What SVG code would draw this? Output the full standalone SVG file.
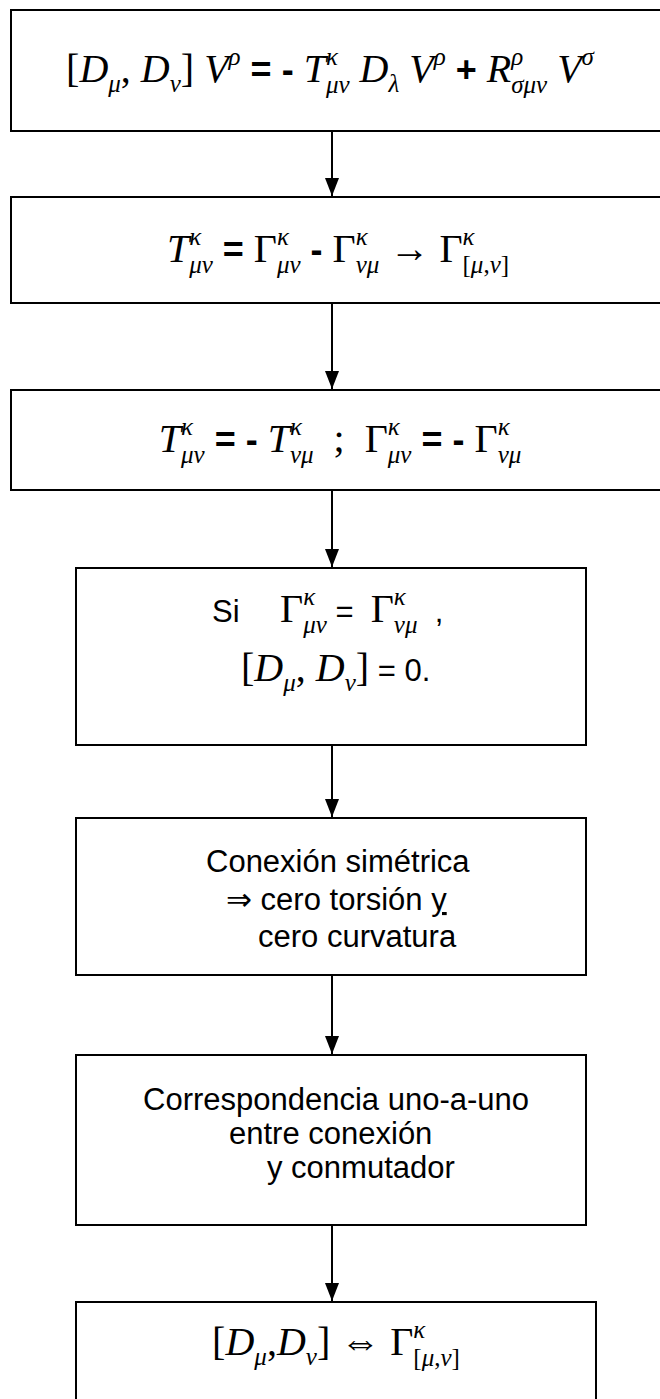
<svg xmlns="http://www.w3.org/2000/svg" width="660" height="1399" viewBox="0 0 660 1399">
<style>
.box{fill:#fff;stroke:#000;stroke-width:2}
.m{font-family:"Liberation Serif",serif;font-style:italic;font-size:40px;fill:#000}
.r{font-style:normal}
.s{font-size:25px}
.op{font-family:"Liberation Sans",Arial,sans-serif;font-weight:bold;font-style:normal;font-size:36px}
.t{font-family:"Liberation Sans",Arial,sans-serif;font-style:normal;font-size:31px;fill:#000}
.conn{stroke:#000;stroke-width:2;fill:none;marker-end:url(#ah)}
</style>
<defs>
<marker id="ah" markerWidth="18" markerHeight="14" refX="18" refY="7" orient="auto" markerUnits="userSpaceOnUse" viewBox="0 0 18 14">
<path d="M0,0 L18,7 L0,14 Z" fill="#000"/>
</marker>
</defs>
<rect width="660" height="1399" fill="#fff"/>
<g id="connectors">
<line class="conn" x1="332" y1="131" x2="332" y2="196"/>
<line class="conn" x1="332" y1="303" x2="332" y2="389"/>
<line class="conn" x1="332" y1="490" x2="332" y2="567"/>
<line class="conn" x1="332" y1="745" x2="332" y2="817"/>
<line class="conn" x1="332" y1="975" x2="332" y2="1054"/>
<line class="conn" x1="332" y1="1225" x2="332" y2="1301"/>
</g>
<g id="n1">
<rect class="box" x="11" y="10" width="660" height="121"/>
<text class="m" x="330" y="82" text-anchor="middle"><tspan class="r">[</tspan>D<tspan class="s" dy="10">μ</tspan><tspan class="r" dy="-10">, </tspan>D<tspan class="s" dy="10">ν</tspan><tspan class="r" dy="-10">] </tspan>V<tspan class="s" dy="-17">ρ</tspan><tspan class="op" dy="17"> = - </tspan>T<tspan class="s" dy="-17">κ</tspan><tspan class="s" dx="-12" dy="28">μν</tspan><tspan dy="-11"> D</tspan><tspan class="s" dy="10">λ</tspan><tspan dy="-10"> V</tspan><tspan class="s" dy="-17">ρ</tspan><tspan class="op" dy="17"> + </tspan>R<tspan class="s" dy="-17">ρ</tspan><tspan class="s" dx="-12" dy="28">σμν</tspan><tspan dy="-11"> V</tspan><tspan class="s" dy="-17">σ</tspan></text>
</g>
<g id="n2">
<rect class="box" x="11" y="197" width="660" height="106"/>
<text class="m" x="338" y="262" text-anchor="middle">T<tspan class="s" dy="-17">κ</tspan><tspan class="s" dx="-12" dy="28">μν</tspan><tspan class="op" dy="-11"> = </tspan><tspan class="r">Γ</tspan><tspan class="s" dy="-17">κ</tspan><tspan class="s" dx="-12" dy="28">μν</tspan><tspan class="op" dy="-11"> - </tspan><tspan class="r">Γ</tspan><tspan class="s" dy="-17">κ</tspan><tspan class="s" dx="-12" dy="28">νμ</tspan><tspan class="r" dy="-11"> → Γ</tspan><tspan class="s" dy="-17">κ</tspan><tspan class="s" dx="-12" dy="28"><tspan class="r">[</tspan>μ<tspan class="r">,</tspan>ν<tspan class="r">]</tspan></tspan></text>
</g>
<g id="n3">
<rect class="box" x="11" y="390" width="660" height="100"/>
<text class="m" x="340" y="452" text-anchor="middle">T<tspan class="s" dy="-17">κ</tspan><tspan class="s" dx="-12" dy="28">μν</tspan><tspan class="op" dy="-11"> = - </tspan>T<tspan class="s" dy="-17">κ</tspan><tspan class="s" dx="-12" dy="28">νμ</tspan><tspan class="r" dy="-11" xml:space="preserve">  ;  Γ</tspan><tspan class="s" dy="-17">κ</tspan><tspan class="s" dx="-12" dy="28">μν</tspan><tspan class="op" dy="-11"> = - </tspan><tspan class="r">Γ</tspan><tspan class="s" dy="-17">κ</tspan><tspan class="s" dx="-12" dy="28">νμ</tspan></text>
</g>
<g id="n4">
<rect class="box" x="76" y="568" width="510" height="177"/>
<text class="t" x="212" y="622">Si</text>
<text class="m" x="280" y="622"><tspan class="r">Γ</tspan><tspan class="s" dy="-17">κ</tspan><tspan class="s" dx="-12" dy="28">μν</tspan><tspan class="t" dy="-11" xml:space="preserve"> =  </tspan><tspan class="r">Γ</tspan><tspan class="s" dy="-17">κ</tspan><tspan class="s" dx="-12" dy="28">νμ</tspan><tspan class="t" dy="-11" xml:space="preserve">  ,</tspan></text>
<text class="m" x="241" y="681"><tspan class="r">[</tspan>D<tspan class="s" dy="10">μ</tspan><tspan class="r" dy="-10">, </tspan>D<tspan class="s" dy="10">ν</tspan><tspan class="r" dy="-10">]</tspan><tspan class="t"> = 0.</tspan></text>
</g>
<g id="n5">
<rect class="box" x="76" y="818" width="510" height="157"/>
<text class="t" x="206" y="872">Conexión simétrica</text>
<text class="t" x="226" y="910">⇒ cero torsión <tspan text-decoration="underline">y</tspan></text>
<text class="t" x="258" y="947">cero curvatura</text>
</g>
<g id="n6">
<rect class="box" x="76" y="1055" width="510" height="170"/>
<text class="t" x="143" y="1110">Correspondencia uno-a-uno</text>
<text class="t" x="229" y="1144">entre conexión</text>
<text class="t" x="267" y="1178">y conmutador</text>
</g>
<g id="n7">
<rect class="box" x="76" y="1302" width="520" height="110"/>
<text class="m" x="336" y="1355" text-anchor="middle"><tspan class="r">[</tspan>D<tspan class="s" dy="10">μ</tspan><tspan class="r" dy="-10">,</tspan>D<tspan class="s" dy="10">ν</tspan><tspan class="r" dy="-10">] ⇔ Γ</tspan><tspan class="s" dy="-17">κ</tspan><tspan class="s" dx="-12" dy="28"><tspan class="r">[</tspan>μ<tspan class="r">,</tspan>ν<tspan class="r">]</tspan></tspan></text>
</g>
</svg>
